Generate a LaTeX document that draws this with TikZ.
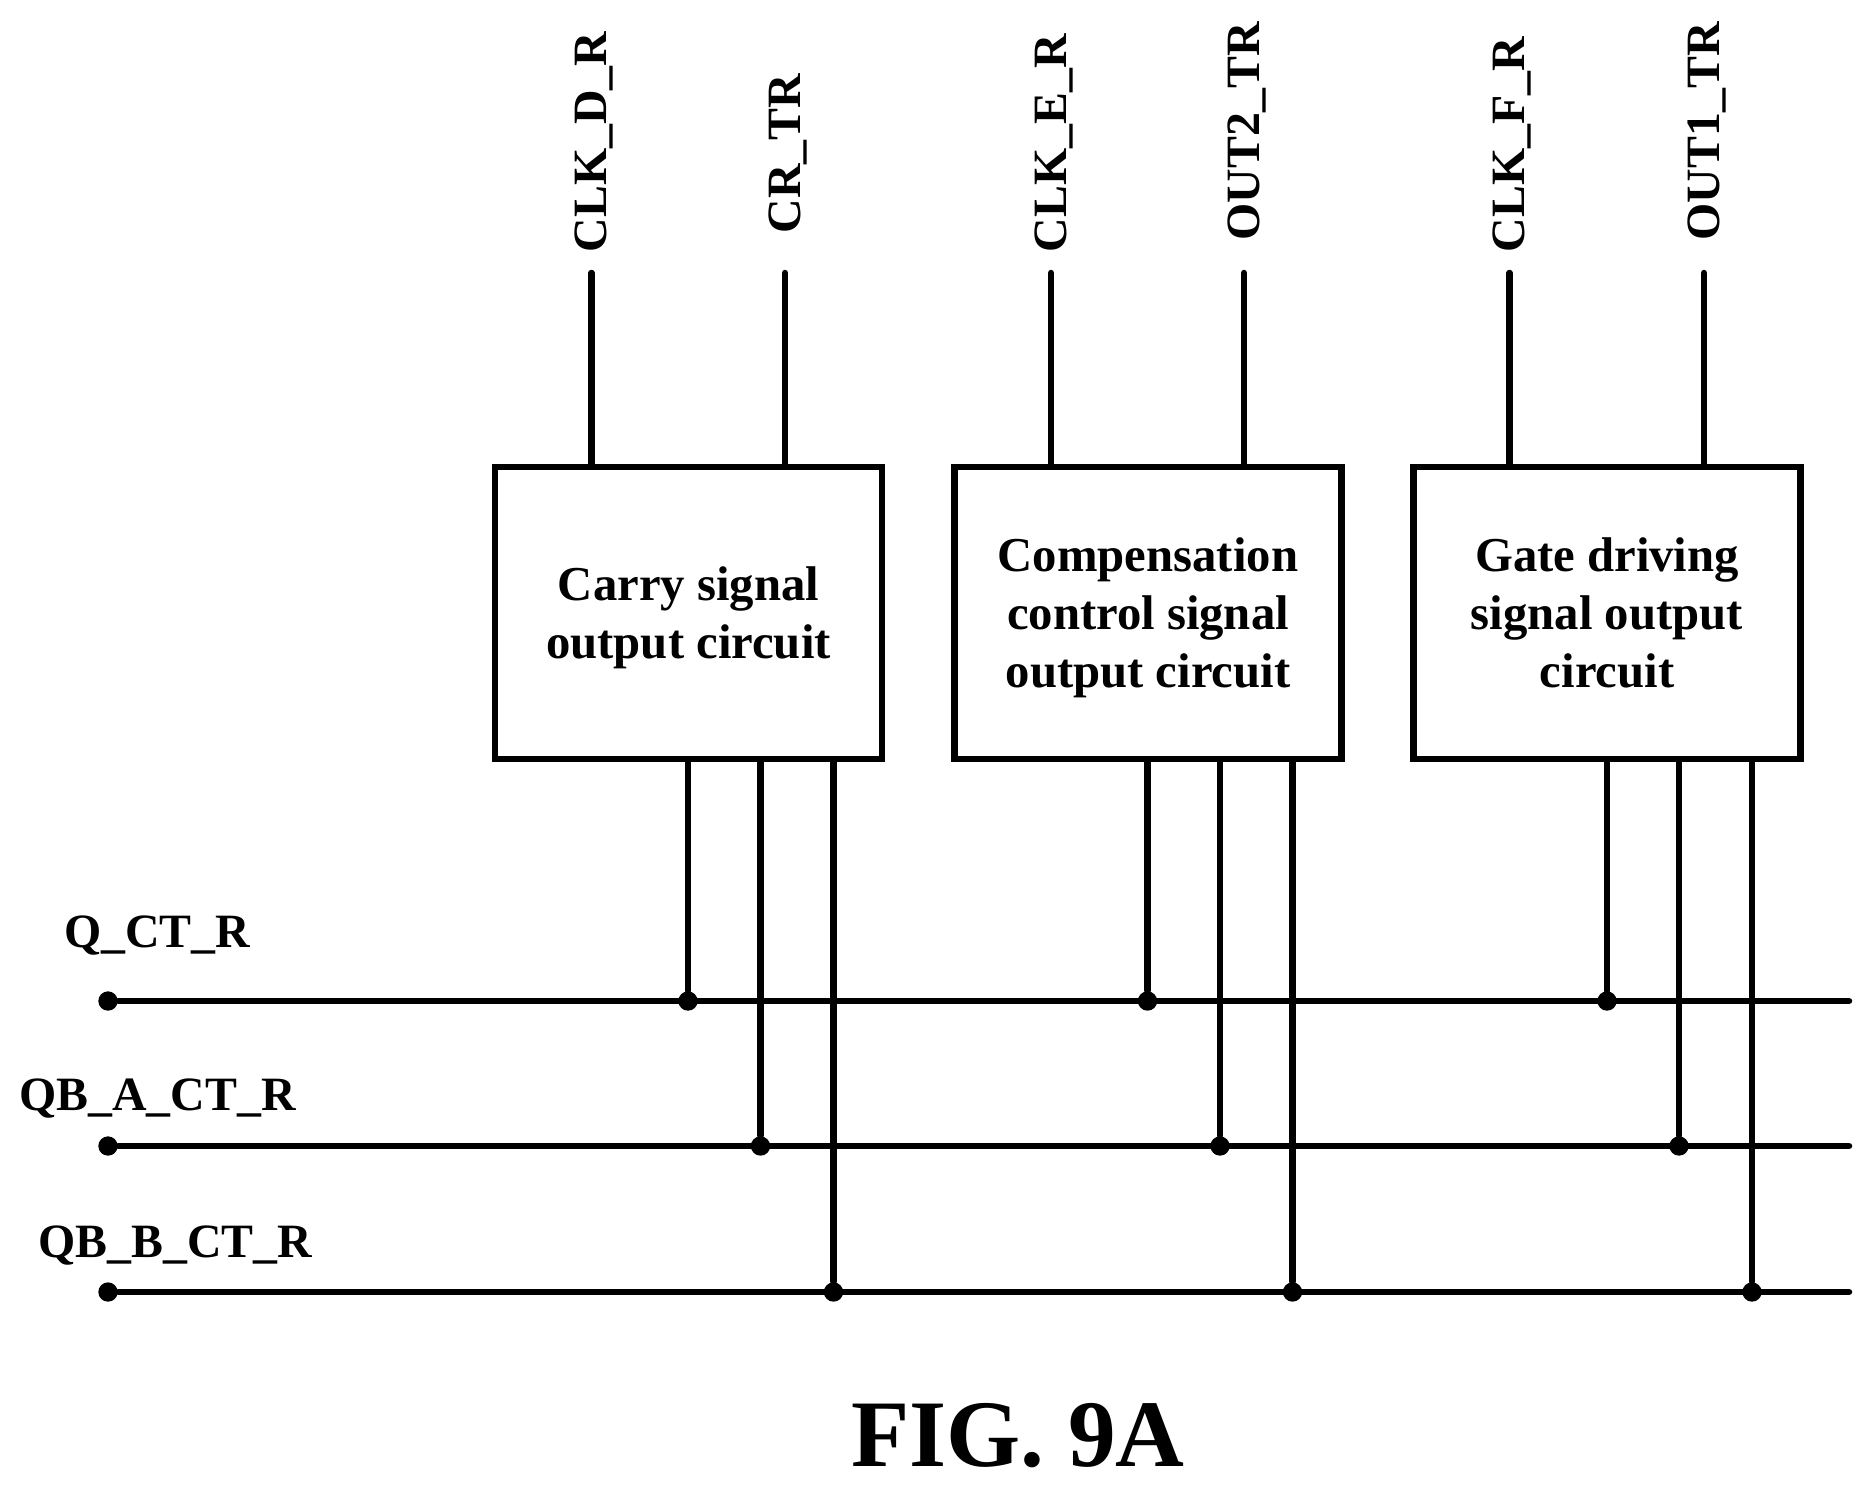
\documentclass[tikz,border=0pt]{standalone}
\usepackage{fontspec}
\setmainfont{Liberation Serif}

\newcommand{\topstrut}{\rule{0pt}{14.4pt}}

\tikzset{
	block/.style={draw, line width=1.85pt, minimum width=3.87cm, minimum height=2.92cm, inner sep=0pt, align=center, font=\bfseries\fontsize{13.85}{16.6}\selectfont, execute at end node=\strut},
	wire/.style={line width=1.85pt, line cap=round},
	dot/.style={circle, fill=black, inner sep=0pt, minimum size=5.5pt},
	pinlabel/.style={rotate=90, anchor=base west, inner sep=0pt, font=\bfseries\fontsize{13.6}{16}\selectfont},
	linelabel/.style={anchor=base west, inner sep=0pt, font=\bfseries\fontsize{13.6}{16}\selectfont}
}

\begin{document}
\begin{tikzpicture}[x=0.01cm, y=-0.01cm]

	\useasboundingbox (0, 0) rectangle (1872, 1490);

	% 1. Blocks
	\node[block] (carry) at (688.5, 613) {\topstrut Carry signal\\output circuit};
	\node[block] (comp) at (1148, 613) {\topstrut Compensation\\control signal\\output circuit};
	\node[block] (gate) at (1607, 613) {\topstrut Gate driving\\signal output\\circuit};

	% 2. Upper pins and their labels
	\coordinate (clkd) at (591.5, 273);
	\coordinate (crtr) at (785, 273);
	\coordinate (clke) at (1051, 273);
	\coordinate (out2) at (1244, 273);
	\coordinate (clkf) at (1509.5, 273);
	\coordinate (out1) at (1704, 273);

	\draw[wire] (clkd) -- (clkd |- carry.north);
	\draw[wire] (crtr) -- (crtr |- carry.north);
	\draw[wire] (clke) -- (clke |- comp.north);
	\draw[wire] (out2) -- (out2 |- comp.north);
	\draw[wire] (clkf) -- (clkf |- gate.north);
	\draw[wire] (out1) -- (out1 |- gate.north);

	\node[pinlabel] (lclkd) at (606, 253) {CLK\_D\_R};
	\node[pinlabel] (lcrtr) at (800, 234) {CR\_TR};
	\node[pinlabel] (lclke) at (1066, 253) {CLK\_E\_R};
	\node[pinlabel] (lout2) at (1259, 241) {OUT2\_TR};
	\node[pinlabel] (lclkf) at (1524, 253) {CLK\_F\_R};
	\node[pinlabel] (lout1) at (1719, 241) {OUT1\_TR};

	% 3. Horizontal lines
	\node[dot] (q) at (108, 1001) {};
	\node[dot] (qba) at (108, 1146) {};
	\node[dot] (qbb) at (108, 1292) {};
	\coordinate (qend) at (1849, 1001);
	\coordinate (qbaend) at (1849, 1146);
	\coordinate (qbbend) at (1849, 1292);

	\draw[wire] (q) -- (qend);
	\draw[wire] (qba) -- (qbaend);
	\draw[wire] (qbb) -- (qbbend);

	\node[linelabel] (lq) at (63.5, 947) {Q\_CT\_R};
	\node[linelabel] (lqba) at (18.5, 1110) {QB\_A\_CT\_R};
	\node[linelabel] (lqbb) at (37.5, 1257) {QB\_B\_CT\_R};

	% 4. Junctions on the lines
	\node[dot] (j1) at (688, 1001) {};
	\node[dot] (j2) at (760.5, 1146) {};
	\node[dot] (j3) at (833.5, 1292) {};
	\node[dot] (j4) at (1147.5, 1001) {};
	\node[dot] (j5) at (1220, 1146) {};
	\node[dot] (j6) at (1292.5, 1292) {};
	\node[dot] (j7) at (1607, 1001) {};
	\node[dot] (j8) at (1679, 1146) {};
	\node[dot] (j9) at (1752, 1292) {};

	% 5. Drops from the blocks to the junctions
	\draw[wire] (carry.south -| j1) -- (j1);
	\draw[wire] (carry.south -| j2) -- (j2);
	\draw[wire] (carry.south -| j3) -- (j3);
	\draw[wire] (comp.south -| j4) -- (j4);
	\draw[wire] (comp.south -| j5) -- (j5);
	\draw[wire] (comp.south -| j6) -- (j6);
	\draw[wire] (gate.south -| j7) -- (j7);
	\draw[wire] (gate.south -| j8) -- (j8);
	\draw[wire] (gate.south -| j9) -- (j9);

	% 6. Title
	\node[anchor=base, inner sep=0pt, font=\bfseries\fontsize{27.1}{30}\selectfont] (title) at (1018, 1466) {FIG. 9A};

\end{tikzpicture}
\end{document}
